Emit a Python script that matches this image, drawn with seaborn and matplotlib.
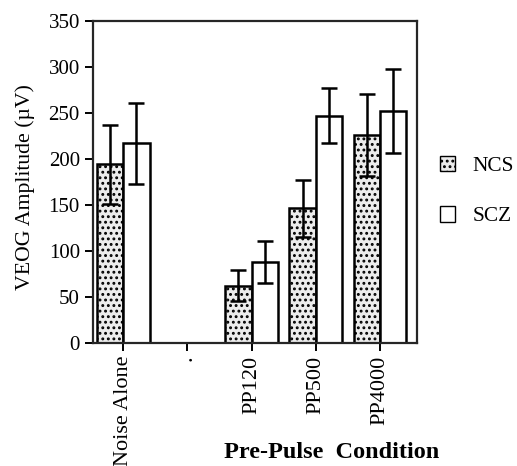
import numpy as np
import pandas as pd
import seaborn as sns
import matplotlib.pyplot as plt
from matplotlib.patches import Patch

# data
conditions = ["Noise Alone", ".", "PP120", "PP500", "PP4000"]
groups = ["NCS", "SCZ"]
ncs_mean = [194, 0, 62, 146, 226]
ncs_err = [43, 0, 17, 31, 45]
scz_mean = [217, 0, 88, 247, 252]
scz_err = [44, 0, 23, 30, 46]

df = pd.DataFrame({
    "condition": conditions * 2,
    "group": ["NCS"] * len(conditions) + ["SCZ"] * len(conditions),
    "amp": ncs_mean + scz_mean,
    "err": ncs_err + scz_err,
})

sns.set_style("ticks")
plt.rcParams["font.family"] = ["Liberation Serif", "DejaVu Serif"]
plt.rcParams["hatch.linewidth"] = 1.3
plt.rcParams["hatch.color"] = "#333333"
plt.rcParams["text.color"] = "black"
plt.rcParams["xtick.color"] = "black"
plt.rcParams["ytick.color"] = "black"
plt.rcParams["axes.labelcolor"] = "black"

fig = plt.figure(figsize=(5.17, 4.66), dpi=100)
ax = fig.add_axes([0.180, 0.265, 0.627, 0.690])

sns.barplot(data=df, x="condition", y="amp", hue="group", order=conditions,
            hue_order=groups, errorbar=None, width=0.82, ax=ax,
            palette={"NCS": "white", "SCZ": "white"}, edgecolor="black",
            linewidth=1.8, legend=False)

# stipple for NCS, error bars for both
bar_containers = list(ax.containers)
for g, cont in zip(groups, bar_containers):
    sub = df[df["group"] == g].set_index("condition").loc[conditions]
    for bar, m, e in zip(cont, sub["amp"], sub["err"]):
        if g == "NCS":
            bar.set_hatch("...")
            bar.set_facecolor("#ececec")
        if m == 0:
            bar.set_visible(False)
            continue
        xc = bar.get_x() + bar.get_width() / 2
        ax.errorbar(xc, m, yerr=e, color="black", capsize=6,
                    elinewidth=1.8, capthick=1.8, fmt="none", zorder=5)

ax.set_ylim(0, 350)
ax.set_yticks(np.arange(0, 351, 50))
ax.set_xlim(-0.47, 4.58)
ax.set_xticks(range(len(conditions)))
ax.set_xticklabels(conditions, rotation=90, fontsize=16)
ax.tick_params(axis="y", labelsize=15, length=6, width=1.4, direction="out")
ax.tick_params(axis="x", length=6, width=1.4, direction="out")
for s in ax.spines.values():
    s.set_linewidth(1.6)
    s.set_visible(True)

ax.set_ylabel("VEOG Amplitude (\u00b5V)", fontsize=15.7)
ax.yaxis.set_label_coords(-0.179, 0.485)
ax.set_xlabel("")
fig.text(0.641, 0.006, "Pre-Pulse  Condition", fontsize=17.5, fontweight="bold",
         ha="center", va="bottom")

handles = [Patch(facecolor="#ececec", edgecolor="black", hatch="...", label="NCS"),
           Patch(facecolor="white", edgecolor="black", label="SCZ")]
ax.legend(handles=handles, loc="upper left", bbox_to_anchor=(440 / 517, 1 - 156 / 466),
          bbox_transform=fig.transFigure, borderpad=0, borderaxespad=0,
          frameon=False, fontsize=15.3, handlelength=0.72, handleheight=0.72,
          labelspacing=1.43, handletextpad=0.8)

fig.savefig("out.png", dpi=100)
